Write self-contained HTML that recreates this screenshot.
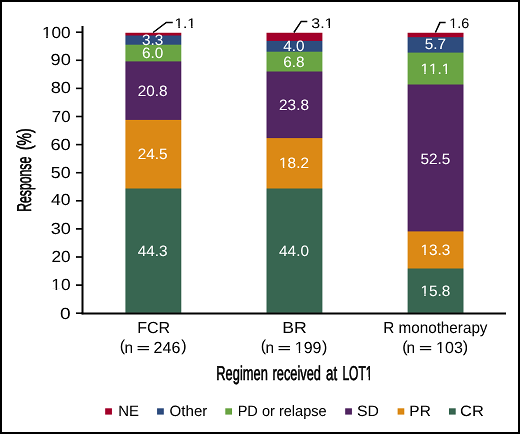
<!DOCTYPE html>
<html><head><meta charset="utf-8"><style>
html,body{margin:0;padding:0;background:#fff;}
svg{display:block;will-change:transform;}
text{font-family:"Liberation Sans", sans-serif;text-rendering:geometricPrecision;font-kerning:none;}
</style></head><body>
<svg width="520" height="434" viewBox="0 0 520 434">
<rect x="1" y="1" width="518" height="432" fill="#fff" stroke="#000" stroke-width="2"/>
<defs><filter id="sh" x="0" y="0" width="520" height="434" filterUnits="userSpaceOnUse" primitiveUnits="userSpaceOnUse" color-interpolation-filters="sRGB"><feConvolveMatrix order="3" kernelMatrix="0 -0.08 0 -0.08 1.320 -0.08 0 -0.08 0" edgeMode="duplicate" preserveAlpha="true"/></filter></defs><g filter="url(#sh)"><rect x="0" y="0" width="520" height="434" fill="#fff"/><rect x="1" y="1" width="518" height="432" fill="#fff" stroke="#000" stroke-width="2"/>
<mask id="bc125" maskUnits="userSpaceOnUse" x="0" y="0" width="520" height="434"><rect x="125.4" y="32.50" width="55.9" height="280.40" fill="#fff"/></mask><g mask="url(#bc125)">
<rect x="123.4" y="32.50" width="59.9" height="282.40" fill="#a3002b"/>
<rect x="123.4" y="35.50" width="59.9" height="279.40" fill="#2e4c7e"/>
<rect x="123.4" y="44.70" width="59.9" height="270.20" fill="#6aa443"/>
<rect x="123.4" y="61.40" width="59.9" height="253.50" fill="#522662"/>
<rect x="123.4" y="119.90" width="59.9" height="195.00" fill="#db8915"/>
<rect x="123.4" y="188.50" width="59.9" height="126.40" fill="#386651"/>
</g>
<mask id="bc266" maskUnits="userSpaceOnUse" x="0" y="0" width="520" height="434"><rect x="266.5" y="32.50" width="55.9" height="280.40" fill="#fff"/></mask><g mask="url(#bc266)">
<rect x="264.5" y="32.50" width="59.9" height="282.40" fill="#a3002b"/>
<rect x="264.5" y="40.90" width="59.9" height="274.00" fill="#2e4c7e"/>
<rect x="264.5" y="51.70" width="59.9" height="263.20" fill="#6aa443"/>
<rect x="264.5" y="71.50" width="59.9" height="243.40" fill="#522662"/>
<rect x="264.5" y="138.10" width="59.9" height="176.80" fill="#db8915"/>
<rect x="264.5" y="188.50" width="59.9" height="126.40" fill="#386651"/>
</g>
<mask id="bc407" maskUnits="userSpaceOnUse" x="0" y="0" width="520" height="434"><rect x="407.6" y="32.50" width="55.9" height="280.40" fill="#fff"/></mask><g mask="url(#bc407)">
<rect x="405.6" y="32.50" width="59.9" height="282.40" fill="#a3002b"/>
<rect x="405.6" y="37.20" width="59.9" height="277.70" fill="#2e4c7e"/>
<rect x="405.6" y="52.60" width="59.9" height="262.30" fill="#6aa443"/>
<rect x="405.6" y="84.50" width="59.9" height="230.40" fill="#522662"/>
<rect x="405.6" y="231.40" width="59.9" height="83.50" fill="#db8915"/>
<rect x="405.6" y="268.50" width="59.9" height="46.40" fill="#386651"/>
</g>
<g stroke="#000" fill="none">
<line x1="82.5" y1="26" x2="82.5" y2="314.3" stroke-width="2"/>
<line x1="81.5" y1="313.40000000000003" x2="506" y2="313.40000000000003" stroke-width="2"/>
<line x1="76" y1="285.10" x2="82" y2="285.10" stroke-width="1.6"/>
<line x1="76" y1="257.00" x2="82" y2="257.00" stroke-width="1.6"/>
<line x1="76" y1="228.90" x2="82" y2="228.90" stroke-width="1.6"/>
<line x1="76" y1="200.80" x2="82" y2="200.80" stroke-width="1.6"/>
<line x1="76" y1="172.70" x2="82" y2="172.70" stroke-width="1.6"/>
<line x1="76" y1="144.60" x2="82" y2="144.60" stroke-width="1.6"/>
<line x1="76" y1="116.50" x2="82" y2="116.50" stroke-width="1.6"/>
<line x1="76" y1="88.40" x2="82" y2="88.40" stroke-width="1.6"/>
<line x1="76" y1="60.30" x2="82" y2="60.30" stroke-width="1.6"/>
<line x1="76" y1="32.20" x2="82" y2="32.20" stroke-width="1.6"/>
<line x1="76" y1="313.20" x2="82" y2="313.20" stroke-width="1.6"/>
<polyline points="153.1,32.5 166.3,22.5 172.7,22.5" stroke-width="1.5"/>
<polyline points="293.9,32.5 301.2,21.4 307.3,21.4" stroke-width="1.5"/>
<polyline points="435.4,32.5 439.9,22.6 445.6,22.6" stroke-width="1.5"/>
</g>
<rect x="105.2" y="408.3" width="6.7" height="6.3" fill="#a3002b"/>
<rect x="157.1" y="408.3" width="6.7" height="6.3" fill="#2e4c7e"/>
<rect x="225.3" y="408.3" width="6.7" height="6.3" fill="#6aa443"/>
<rect x="345.2" y="408.3" width="6.7" height="6.3" fill="#522662"/>
<rect x="397.6" y="408.3" width="6.7" height="6.3" fill="#db8915"/>
<rect x="449.0" y="408.3" width="6.7" height="6.3" fill="#386651"/>
<rect x="137.60" y="346.05" width="11.3" height="1.15" fill="#000"/>
<rect x="137.60" y="349.05" width="11.3" height="1.15" fill="#000"/>
<rect x="278.60" y="346.05" width="11.3" height="1.15" fill="#000"/>
<rect x="278.60" y="349.05" width="11.3" height="1.15" fill="#000"/>
<rect x="419.90" y="346.05" width="11.3" height="1.15" fill="#000"/>
<rect x="419.90" y="349.05" width="11.3" height="1.15" fill="#000"/>
<mask id="nf" maskUnits="userSpaceOnUse" x="0" y="0" width="520" height="434"><rect width="520" height="434" fill="#fff"/>
<rect x="51.71" y="288.31" width="3.93" height="3.60"/>
<rect x="57.16" y="288.31" width="3.79" height="3.60"/>
<rect x="42.32" y="35.64" width="3.91" height="3.60"/>
<rect x="47.75" y="35.64" width="3.77" height="3.60"/>
<rect x="295.10" y="350.67" width="3.70" height="3.60"/>
<rect x="300.22" y="350.67" width="3.58" height="3.60"/>
<rect x="436.41" y="350.72" width="3.70" height="3.60"/>
<rect x="441.53" y="350.72" width="3.58" height="3.60"/>
<rect x="279.37" y="166.52" width="3.58" height="3.52"/>
<rect x="284.31" y="166.52" width="3.46" height="3.52"/>
<rect x="420.72" y="293.59" width="3.58" height="3.52"/>
<rect x="425.66" y="293.59" width="3.46" height="3.52"/>
<rect x="420.72" y="253.53" width="3.58" height="3.52"/>
<rect x="425.66" y="253.53" width="3.46" height="3.52"/>
<rect x="420.72" y="71.60" width="3.58" height="3.52"/>
<rect x="425.66" y="71.60" width="3.46" height="3.52"/>
<rect x="429.22" y="71.60" width="3.58" height="3.52"/>
<rect x="434.15" y="71.60" width="3.46" height="3.52"/>
<rect x="441.98" y="71.60" width="3.58" height="3.52"/>
<rect x="446.92" y="71.60" width="3.46" height="3.52"/>
<rect x="174.82" y="26.34" width="3.59" height="3.45"/>
<rect x="179.77" y="26.34" width="3.47" height="3.45"/>
<rect x="187.62" y="26.34" width="3.59" height="3.45"/>
<rect x="192.57" y="26.34" width="3.47" height="3.45"/>
<rect x="324.92" y="25.82" width="3.69" height="3.45"/>
<rect x="330.03" y="25.82" width="3.57" height="3.45"/>
<rect x="449.53" y="25.92" width="3.42" height="3.45"/>
<rect x="454.22" y="25.92" width="3.31" height="3.45"/>
<rect x="365.62" y="377.01" width="3.01" height="4.49"/>
<rect x="370.05" y="377.01" width="2.91" height="4.49"/>
</mask>
<g mask="url(#nf)">
<text transform="translate(60.12,318.61) scale(1.1909,1)" font-size="16" fill="#000">0</text>
<text transform="translate(51.30,290.30) scale(1.0787,1)" font-size="16" fill="#000">10</text>
<text transform="translate(51.40,262.09) scale(1.0713,1)" font-size="16" fill="#000">20</text>
<text transform="translate(50.63,233.69) scale(1.1308,1)" font-size="16" fill="#000">30</text>
<text transform="translate(50.91,205.40) scale(1.0953,1)" font-size="16" fill="#000">40</text>
<text transform="translate(50.77,178.06) scale(1.1095,1)" font-size="16" fill="#000">50</text>
<text transform="translate(50.38,149.79) scale(1.1416,1)" font-size="16" fill="#000">60</text>
<text transform="translate(51.86,121.63) scale(1.0475,1)" font-size="16" fill="#000">70</text>
<text transform="translate(50.66,93.17) scale(1.1373,1)" font-size="16" fill="#000">80</text>
<text transform="translate(50.60,64.88) scale(1.1380,1)" font-size="16" fill="#000">90</text>
<text transform="translate(41.92,37.64) scale(1.0724,1)" font-size="16" fill="#000">100</text>
<text transform="translate(137.15,333.02) scale(1.0009,1)" font-size="16" fill="#000">FCR</text>
<text transform="translate(282.16,333.30) scale(1.1022,1)" font-size="16" fill="#000">BR</text>
<text transform="translate(383.24,333.20) scale(0.9530,1)" font-size="16" fill="#000">R monotherapy</text>
<text transform="translate(119.63,351.46) scale(1.0000,1)" font-size="16" fill="#000">(</text>
<text transform="translate(124.49,353.00) scale(0.9600,1)" font-size="16" fill="#000">n</text>
<text transform="translate(153.61,352.72) scale(1.0000,1)" font-size="16" fill="#000">246</text>
<text transform="translate(181.31,351.41) scale(1.0000,1)" font-size="16" fill="#000">)</text>
<text transform="translate(260.63,351.46) scale(1.0000,1)" font-size="16" fill="#000">(</text>
<text transform="translate(265.49,353.00) scale(0.9600,1)" font-size="16" fill="#000">n</text>
<text transform="translate(294.79,352.67) scale(1.0000,1)" font-size="16" fill="#000">199</text>
<text transform="translate(321.98,352.04) scale(1.0000,1)" font-size="16" fill="#000">)</text>
<text transform="translate(402.15,351.79) scale(1.0000,1)" font-size="16" fill="#000">(</text>
<text transform="translate(406.62,353.00) scale(0.9600,1)" font-size="16" fill="#000">n</text>
<text transform="translate(436.09,352.71) scale(1.0000,1)" font-size="16" fill="#000">103</text>
<text transform="translate(462.79,351.53) scale(1.0000,1)" font-size="16" fill="#000">)</text>
<text transform="translate(118.13,415.90) scale(0.9937,1)" font-size="15" fill="#000">NE</text>
<text transform="translate(169.62,415.90) scale(1.0054,1)" font-size="15" fill="#000">Other</text>
<text transform="translate(237.66,415.90) scale(0.9701,1)" font-size="15" fill="#000">PD or relapse</text>
<text transform="translate(356.88,415.90) scale(1.0550,1)" font-size="15" fill="#000">SD</text>
<text transform="translate(409.36,415.90) scale(1.0261,1)" font-size="15" fill="#000">PR</text>
<text transform="translate(460.08,415.90) scale(1.0952,1)" font-size="15" fill="#000">CR</text>
<text transform="translate(137.66,255.88) scale(1.0200,1)" font-size="15" fill="#fff">44.3</text>
<text transform="translate(137.66,159.31) scale(1.0200,1)" font-size="15" fill="#fff">24.5</text>
<text transform="translate(137.66,95.81) scale(1.0200,1)" font-size="15" fill="#fff">20.8</text>
<text transform="translate(141.91,58.02) scale(1.0200,1)" font-size="15" fill="#fff">6.0</text>
<text transform="translate(141.91,44.91) scale(1.0200,1)" font-size="15" fill="#fff">3.3</text>
<text transform="translate(279.11,256.16) scale(1.0200,1)" font-size="15" fill="#fff">44.0</text>
<text transform="translate(279.11,168.44) scale(1.0200,1)" font-size="15" fill="#fff">18.2</text>
<text transform="translate(279.11,109.68) scale(1.0200,1)" font-size="15" fill="#fff">23.8</text>
<text transform="translate(283.36,66.78) scale(1.0200,1)" font-size="15" fill="#fff">6.8</text>
<text transform="translate(283.36,51.34) scale(1.0200,1)" font-size="15" fill="#fff">4.0</text>
<text transform="translate(420.46,295.51) scale(1.0200,1)" font-size="15" fill="#fff">15.8</text>
<text transform="translate(420.46,255.45) scale(1.0200,1)" font-size="15" fill="#fff">13.3</text>
<text transform="translate(420.46,163.54) scale(1.0200,1)" font-size="15" fill="#fff">52.5</text>
<text transform="translate(420.46,73.52) scale(1.0200,1)" font-size="15" fill="#fff">11.1</text>
<text transform="translate(424.71,48.81) scale(1.0200,1)" font-size="15" fill="#fff">5.7</text>
<text transform="translate(174.55,28.19) scale(1.0965,1)" font-size="14" fill="#000">1.1</text>
<text transform="translate(311.32,27.67) scale(1.1384,1)" font-size="14" fill="#000">3.1</text>
<text transform="translate(449.33,27.76) scale(1.0273,1)" font-size="14" fill="#000">1.6</text>
<text transform="translate(216.33,379.60) scale(0.6428,1)" font-size="20" stroke="#000" stroke-width="0.6" fill="#000">Regimen</text>
<text transform="translate(272.55,379.60) scale(0.6391,1)" font-size="20" stroke="#000" stroke-width="0.6" fill="#000">received</text>
<text transform="translate(326.07,379.60) scale(0.6622,1)" font-size="20" stroke="#000" stroke-width="0.6" fill="#000">at</text>
<text transform="translate(342.41,379.60) scale(0.6011,1)" font-size="20" stroke="#000" stroke-width="0.6" fill="#000">LOT1</text>
<text transform="translate(30.90,211.82) rotate(-90) scale(0.6106,1)" font-size="20" stroke="#000" stroke-width="0.6" fill="#000">Response</text>
<text transform="translate(30.90,150.07) rotate(-90) scale(0.6992,1)" font-size="20" stroke="#000" stroke-width="0.6" fill="#000">(%)</text>
</g>
</g>
</svg></body></html>
